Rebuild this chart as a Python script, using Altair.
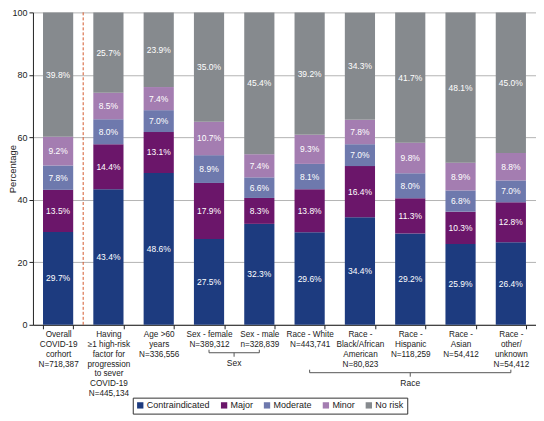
import altair as alt
import pandas as pd

categories = [
    "Overall|COVID-19|corhort|N=718,387",
    "Having|≥1 high-risk|factor for|progression|to sever|COVID-19|N=445,134",
    "Age >60|years|N=336,556",
    "Sex - female|N=389,312",
    "Sex - male|n=328,839",
    "Race - White|N=443,741",
    "Race -|Black/African|American|N=80,823",
    "Race -|Hispanic|N=118,259",
    "Race -|Asian|N=54,412",
    "Race -|other/|unknown|N=54,412",
]
levels = ["Contraindicated", "Major", "Moderate", "Minor", "No risk"]
colors = ["#1d3b7f", "#6b166a", "#6e79ad", "#a47db1", "#868a8e"]

contraindicated = [29.7, 43.4, 48.6, 27.5, 32.3, 29.6, 34.4, 29.2, 25.9, 26.4]
major = [13.5, 14.4, 13.1, 17.9, 8.3, 13.8, 16.4, 11.3, 10.3, 12.8]
moderate = [7.8, 8.0, 7.0, 8.9, 6.6, 8.1, 7.0, 8.0, 6.8, 7.0]
minor = [9.2, 8.5, 7.4, 10.7, 7.4, 9.3, 7.8, 9.8, 8.9, 8.8]
no_risk = [39.8, 25.7, 23.9, 35.0, 45.4, 39.2, 34.3, 41.7, 48.1, 45.0]

series = [contraindicated, major, moderate, minor, no_risk]
rows = []
for li, (lvl, vals) in enumerate(zip(levels, series)):
    for cat, v in zip(categories, vals):
        rows.append({"cat": cat, "level": lvl, "order": li, "value": v})
df = pd.DataFrame(rows)

FONT = "Liberation Sans, Arial, sans-serif"

xscale = alt.Scale(domain=categories, paddingInner=0.4, paddingOuter=0.2)
yscale = alt.Scale(domain=[0, 100], nice=False)
GAP = 10  # half of the gap between bars, in px
H = 313

base = alt.Chart(df).transform_stack(
    stack="value", groupby=["cat"], sort=[alt.SortField("order")], as_=["y0", "y1"]
).transform_calculate(
    mid="(datum.y0 + datum.y1) / 2",
    lab="format(datum.value, '.1f') + '%'",
)

bars = base.mark_bar().encode(
    x=alt.X("cat:N", scale=xscale, sort=categories,
            axis=alt.Axis(title=None, labelAngle=0, labelExpr="split(datum.label, '|')",
                          labelBaseline="top", labelLineHeight=9.8, labelFontSize=8.2,
                          labelFont=FONT, labelColor="#222", labelLimit=200,
                          tickBand="extent", tickSize=4, labelPadding=2,
                          domainColor="#222", tickColor="#222", grid=False)),
    y=alt.Y("y0:Q", scale=yscale,
            axis=alt.Axis(title="Percentage", values=[0, 20, 40, 60, 80, 100],
                          tickSize=4, labelPadding=2, labelFontSize=9, labelFont=FONT,
                          labelColor="#222", domainColor="#222", tickColor="#222",
                          gridColor="#b4b4b4", titleFont=FONT, titleFontSize=9.5,
                          titleFontWeight="normal", titleColor="#222", titleX=-15,
                          titleBaseline="bottom")),
    y2="y1:Q",
    color=alt.Color("level:N", scale=alt.Scale(domain=levels, range=colors),
                    legend=alt.Legend(title=None, orient="none", direction="horizontal",
                                      legendX=100, legendY=386, strokeColor="#333",
                                      padding=3, symbolType="square", symbolSize=40,
                                      symbolStrokeWidth=0, columnPadding=9, labelOffset=2,
                                      labelFont=FONT, labelFontSize=9, labelColor="#222")),
    order=alt.Order("order:Q"),
)

texts = base.mark_text(color="white", font=FONT, fontSize=8.5).encode(
    x=alt.X("cat:N", scale=xscale, sort=categories),
    y=alt.Y("mid:Q", scale=yscale),
    text="lab:N",
)

divider = alt.Chart(pd.DataFrame({"cat": [categories[0]]})).mark_rule(
    color="#d4582c", strokeDash=[3, 2], strokeWidth=1, xOffset=GAP
).encode(
    x=alt.X("cat:N", scale=xscale, sort=categories, bandPosition=1),
    y=alt.value(0), y2=alt.value(H),
)

def bracket(label, start, end, mid, midpos, midoff, ybase):
    d = pd.DataFrame({"start": [start], "end": [end], "mid": [mid], "label": [label]})
    c = alt.Chart(d)
    st = dict(color="#555", strokeWidth=1)
    horiz = c.mark_rule(**st).encode(
        x=alt.X("start:N", scale=xscale, sort=categories),
        x2=alt.X2("end:N"), y=alt.value(ybase))
    left = c.mark_rule(**st).encode(
        x=alt.X("start:N", scale=xscale, sort=categories),
        y=alt.value(ybase - 3), y2=alt.value(ybase))
    right = c.mark_rule(**st).encode(
        x=alt.X("end:N", scale=xscale, sort=categories),
        y=alt.value(ybase - 3), y2=alt.value(ybase))
    midt = c.mark_rule(xOffset=midoff, **st).encode(
        x=alt.X("mid:N", scale=xscale, sort=categories, bandPosition=midpos),
        y=alt.value(ybase), y2=alt.value(ybase + 4))
    txt = c.mark_text(font=FONT, fontSize=8.5, color="#222", baseline="top",
                      xOffset=midoff).encode(
        x=alt.X("mid:N", scale=xscale, sort=categories, bandPosition=midpos),
        y=alt.value(ybase + 6), text="label:N")
    return [horiz, left, right, midt, txt]

layers = [bars, texts, divider]
layers += bracket("Sex", categories[3], categories[4], categories[3], 1, GAP, 341)
layers += bracket("Race", categories[5], categories[9], categories[7], 0.5, 0, 361)

chart = alt.layer(*layers).properties(
    width=504, height=H,
    padding={"left": 25, "top": 4, "right": 0, "bottom": 96},
    autosize=alt.AutoSizeParams(type="none"),
).configure_view(stroke=None)

chart.save("out.html", embed_options={"renderer": "svg", "actions": False})
